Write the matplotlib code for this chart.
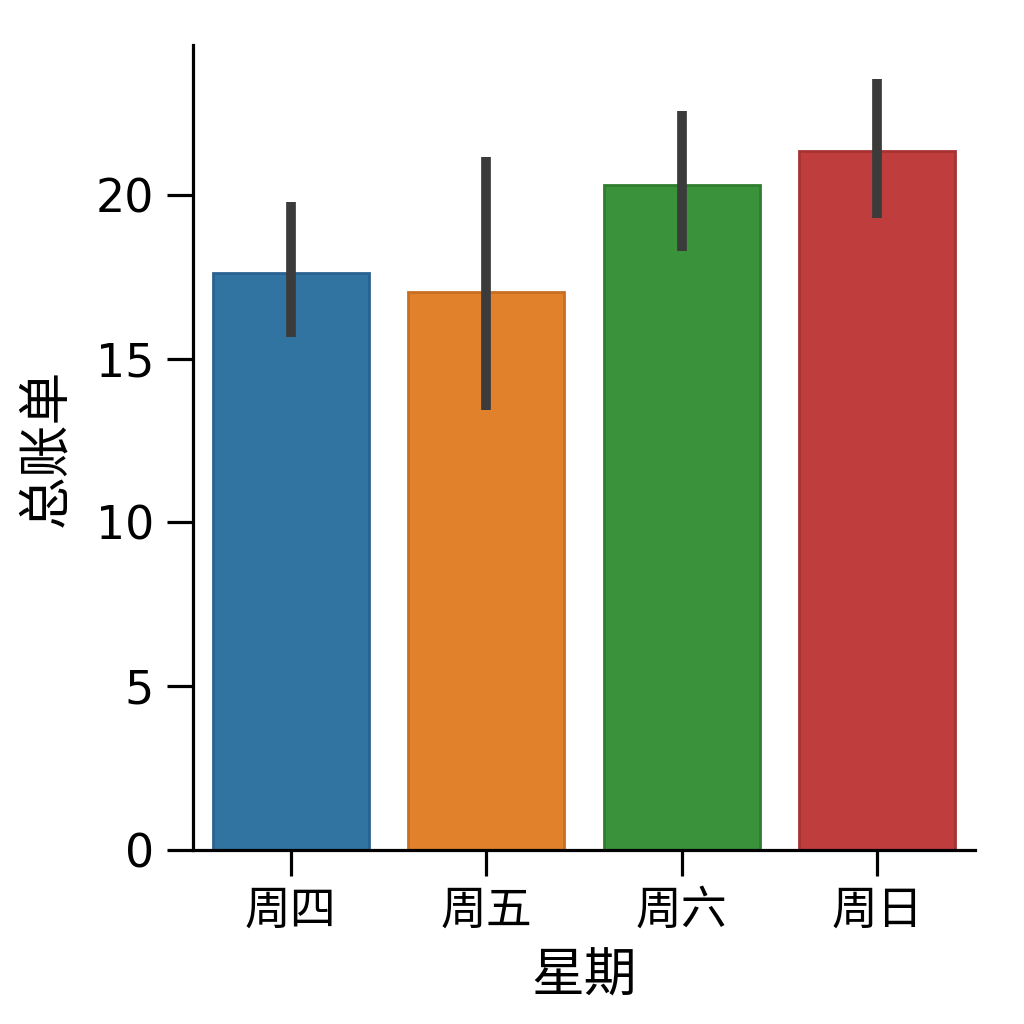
import matplotlib
matplotlib.use("Agg")
import matplotlib.pyplot as plt
import numpy as np

days = ["周四", "周五", "周六", "周日"]
means = [17.62, 17.05, 20.32, 21.33]
ci_low = [15.65, 13.45, 18.28, 19.30]
ci_high = [19.78, 21.15, 22.58, 23.55]
colors = ["#3274a1", "#e1812c", "#3a923a", "#c03d3e"]
edges = ["#2a6290", "#c86f22", "#2f7e2f", "#a83233"]

plt.rcParams['font.family'] = ['DejaVu Sans', 'Noto Sans CJK SC']

fig = plt.figure(figsize=(10.24, 10.24), dpi=100)
ax = fig.add_axes([193/1024, 1 - 850/1024, (975-193)/1024, (850-45)/1024])

x = np.arange(len(days))
ax.bar(x, means, width=0.8, color=colors, edgecolor=edges, linewidth=2, zorder=2)
for xi, lo, hi in zip(x, ci_low, ci_high):
    ax.plot([xi, xi], [lo, hi], color="#3b3b3b", linewidth=7, solid_capstyle='butt', zorder=3)

ax.set_xlim(-0.5, 3.5)
ax.set_ylim(0, 24.58)
ax.set_yticks([0, 5, 10, 15, 20])
ax.set_xticks(x)
ax.set_xticklabels(days)
ax.spines['top'].set_visible(False)
ax.spines['right'].set_visible(False)
for s in ['left', 'bottom']:
    ax.spines[s].set_linewidth(2.3)
ax.tick_params(axis='both', direction='out', length=19, width=2.3, labelsize=33, pad=9)
ax.set_xlabel("星期", fontsize=38, labelpad=12)
ax.set_ylabel("总账单", fontsize=38, labelpad=17)

fig.savefig("out.png", dpi=100)
